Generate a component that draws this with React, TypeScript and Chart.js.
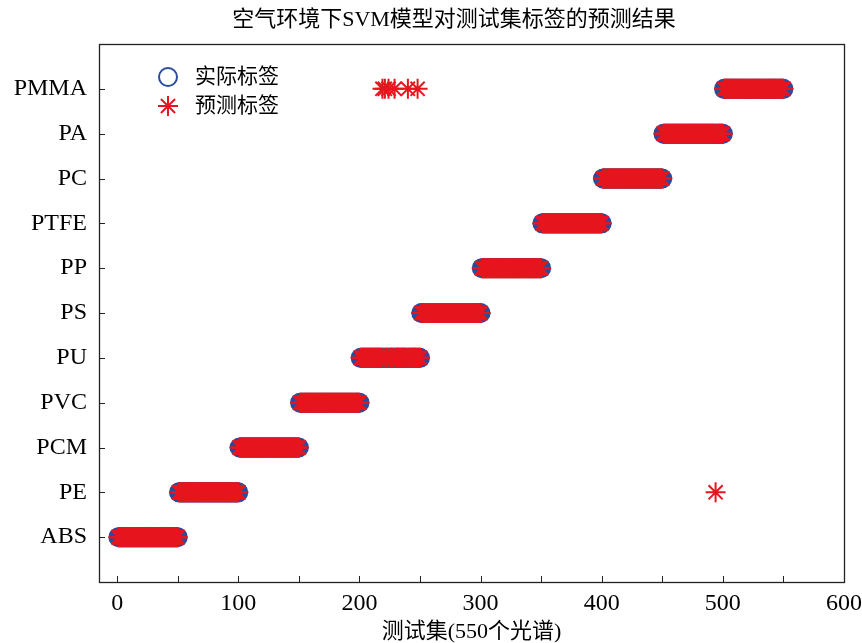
import React, { useEffect, useRef } from 'react';
import { Chart, registerables } from 'chart.js';

Chart.register(...registerables);

const categories = ['ABS', 'PE', 'PCM', 'PVC', 'PU', 'PS', 'PP', 'PTFE', 'PC', 'PA', 'PMMA'];
const samplesPerClass = [50, 50, 50, 50, 50, 50, 50, 50, 50, 50, 50];
// misclassified test samples (sample index -> predicted label)
const errorSamples = [219, 221, 224, 229, 240, 248, 494];
const errorPredicted = ['PMMA', 'PMMA', 'PMMA', 'PMMA', 'PMMA', 'PMMA', 'PE'];
const xTickValues = [0, 100, 200, 300, 400, 500, 600];

const TITLE = '空气环境下SVM模型对测试集标签的预测结果';
const X_TITLE = '测试集(550个光谱)';
const LEGEND = ['实际标签', '预测标签'];

const BLUE = '#2a4c9c';
const RED = '#e6161e';
const FONT = "'Liberation Serif', 'Noto Sans CJK SC', serif";

function buildActual() {
  const pts: { x: number; y: number }[] = [];
  let idx = 1;
  samplesPerClass.forEach((n, c) => {
    for (let k = 0; k < n; k++) {
      pts.push({ x: idx, y: c + 1 });
      idx++;
    }
  });
  return pts;
}

function buildPredicted(actual: { x: number; y: number }[]) {
  return actual.map((p) => {
    const e = errorSamples.indexOf(p.x);
    if (e >= 0) return { x: p.x, y: categories.indexOf(errorPredicted[e]) + 1 };
    return { x: p.x, y: p.y };
  });
}

function drawStar(ctx: CanvasRenderingContext2D, x: number, y: number, r: number) {
  ctx.beginPath();
  for (let a = 0; a < 4; a++) {
    const ang = (a * Math.PI) / 4;
    const dx = Math.cos(ang) * r;
    const dy = Math.sin(ang) * r;
    ctx.moveTo(x - dx, y - dy);
    ctx.lineTo(x + dx, y + dy);
  }
  ctx.stroke();
}

const framePlugin = {
  id: 'frameTicks',
  afterDatasetsDraw(chart: any) {
    const { ctx, chartArea } = chart;
    const { left, right, top, bottom } = chartArea;
    ctx.save();
    ctx.strokeStyle = '#222';
    ctx.lineWidth = 1.3;
    ctx.strokeRect(Math.round(left) + 0.5, Math.round(top) + 0.5, Math.round(right - left), Math.round(bottom - top));
    ctx.lineWidth = 1;
    ctx.beginPath();
    const xs = chart.scales.x;
    xs.ticks.forEach((t: any) => {
      if (t.value % 50 === 0 && t.value >= 0 && t.value < 600) {
        const px = Math.round(xs.getPixelForValue(t.value)) + 0.5;
        ctx.moveTo(px, bottom);
        ctx.lineTo(px, bottom - 6);
      }
    });
    const ys = chart.scales.y;
    for (let v = 1; v <= categories.length; v++) {
      const py = Math.round(ys.getPixelForValue(v)) + 0.5;
      ctx.moveTo(left, py);
      ctx.lineTo(left + 6, py);
    }
    ctx.stroke();
    ctx.restore();
  },
  afterDraw(chart: any) {
    const { ctx, chartArea } = chart;
    const lx = chartArea.left + 69;
    const ly1 = chartArea.top + 33;
    const ly2 = chartArea.top + 62;
    ctx.save();
    // title
    ctx.fillStyle = '#000';
    ctx.font = `22px ${FONT}`;
    ctx.textAlign = 'center';
    ctx.textBaseline = 'middle';
    ctx.fillText(TITLE, chartArea.left + 355, 20);
    // legend
    ctx.lineWidth = 2;
    ctx.strokeStyle = BLUE;
    ctx.beginPath();
    ctx.arc(lx, ly1, 9, 0, Math.PI * 2);
    ctx.stroke();
    ctx.strokeStyle = RED;
    drawStar(ctx, lx, ly2, 10);
    ctx.font = `21px ${FONT}`;
    ctx.textAlign = 'left';
    ctx.fillText(LEGEND[0], lx + 27, ly1);
    ctx.fillText(LEGEND[1], lx + 27, ly2);
    ctx.restore();
  },
};

export default function App() {
  const canvasRef = useRef<HTMLCanvasElement | null>(null);
  useEffect(() => {
    if (!canvasRef.current) return;
    const actual = buildActual();
    const predicted = buildPredicted(actual);
    const chart = new Chart(canvasRef.current, {
      type: 'scatter',
      data: {
        datasets: [
          {
            label: LEGEND[0],
            data: actual,
            pointStyle: 'circle',
            pointRadius: 9,
            pointBorderWidth: 2,
            borderColor: BLUE,
            backgroundColor: 'rgba(0,0,0,0)',
            order: 2,
          },
          {
            label: LEGEND[1],
            data: predicted,
            pointStyle: 'star',
            pointRadius: 10,
            pointBorderWidth: 2,
            borderColor: RED,
            backgroundColor: RED,
            order: 1,
          },
        ],
      } as any,
      options: {
        responsive: false,
        animation: false,
        devicePixelRatio: 1,
        layout: { padding: { top: 44, right: 18, bottom: 0, left: 0 } },
        plugins: {
          legend: { display: false },
          tooltip: { enabled: false },
          title: { display: false },
        },
        scales: {
          x: {
            type: 'linear',
            min: -15,
            max: 600,
            grid: { display: false, drawTicks: false },
            border: { display: false },
            afterBuildTicks: (scale: any) => {
              const t: any[] = [];
              for (let v = 0; v <= 600; v += 50) t.push({ value: v });
              scale.ticks = t;
            },
            ticks: {
              stepSize: 50,
              autoSkip: false,
              maxRotation: 0,
              color: '#000',
              font: { size: 24, family: FONT },
              padding: 7,
              callback: (v: any) => (xTickValues.includes(Number(v)) ? String(v) : ''),
            },
            title: {
              display: true,
              text: X_TITLE,
              color: '#000',
              font: { size: 22, family: FONT, lineHeight: 1.0 },
              padding: { top: 2, bottom: 0 },
            },
            afterFit: (scale: any) => {
              scale.height = 61;
              scale.paddingLeft = 0;
              scale.paddingRight = 0;
            },
          },
          y: {
            type: 'linear',
            min: 0,
            max: 12,
            grid: { display: false, drawTicks: false },
            border: { display: false },
            ticks: {
              stepSize: 1,
              autoSkip: false,
              color: '#000',
              font: { size: 24, family: FONT },
              padding: 12,
              callback: (v: any) => categories[Number(v) - 1] ?? '',
            },
            afterFit: (scale: any) => {
              scale.width = 99;
              scale.paddingTop = 0;
              scale.paddingBottom = 0;
            },
          },
        },
      } as any,
      plugins: [framePlugin],
    });
    return () => chart.destroy();
  }, []);
  return (
    <div style={{ position: 'fixed', left: 0, top: 0, width: 862, height: 643, background: '#fff' }}>
      <canvas ref={canvasRef} width={862} height={643} style={{ width: 862, height: 643 }} />
    </div>
  );
}
